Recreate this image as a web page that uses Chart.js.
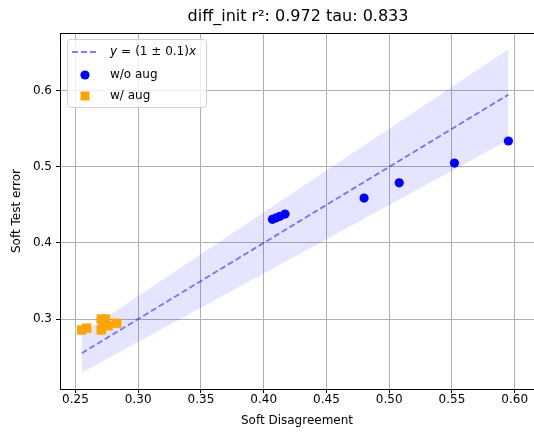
<!DOCTYPE html>
<html>
<head>
<meta charset="utf-8">
<script src="https://cdn.jsdelivr.net/npm/chart.js@4.4.1/dist/chart.umd.min.js"></script>
<style>
  html, body { margin: 0; padding: 0; overflow: hidden; background: #fff; }
  canvas { display: block; }
</style>
</head>
<body>
<canvas id="canvas" width="534" height="434"></canvas>
<script>
'use strict';

const titleText = 'diff_init r\u00b2: 0.972 tau: 0.833';
const xTitle = 'Soft Disagreement';
const yTitle = 'Soft Test error';

const xTicks = [0.25, 0.30, 0.35, 0.40, 0.45, 0.50, 0.55, 0.60];
const yTicks = [0.3, 0.4, 0.5, 0.6];

// without augmentation
const noAugX = [0.407, 0.410, 0.413, 0.417, 0.480, 0.508, 0.552, 0.595];
const noAugY = [0.431, 0.433, 0.435, 0.438, 0.459, 0.479, 0.505, 0.534];

// with augmentation
const augX = [0.255, 0.259, 0.2705, 0.274, 0.272, 0.2705, 0.276, 0.283];
const augY = [0.2855, 0.288, 0.300, 0.300, 0.2935, 0.2855, 0.291, 0.2945];

// reference line y = (1 +- 0.1) x
const slope = 1;
const tol = 0.1;

// the plot box runs a little past the right edge of the figure
const xMin = 0.2377, xMax = 0.6154;
const yMin = 0.208, yMax = 0.676;

const allX = noAugX.concat(augX);
const xLo = Math.min(...allX);
const xHi = Math.max(...allX);

const pts = (xs, ys) => xs.map((x, i) => ({ x: x, y: ys[i] }));
const lineAt = k => [{ x: xLo, y: k * xLo }, { x: xHi, y: k * xHi }];

const FONT = "'DejaVu Sans', sans-serif";

// title, top edge of the frame and the boxed legend
const decorations = {
    id: 'decorations',
    afterDraw(chart) {
        const ctx = chart.ctx;
        const area = chart.chartArea;
        ctx.save();

        ctx.strokeStyle = '#000';
        ctx.lineWidth = 1;
        ctx.beginPath();
        ctx.moveTo(area.left, area.top + 0.5);
        ctx.lineTo(area.right, area.top + 0.5);
        ctx.stroke();

        ctx.fillStyle = '#000';
        ctx.font = '16px ' + FONT;
        ctx.textAlign = 'center';
        ctx.textBaseline = 'middle';
        ctx.fillText(titleText, 298, 17);

        // legend
        const bx = 67, by = 39, bw = 139, bh = 68;
        ctx.fillStyle = 'rgba(255,255,255,0.8)';
        ctx.strokeStyle = '#d0d0d0';
        ctx.beginPath();
        ctx.roundRect(bx + 0.5, by + 0.5, bw, bh, 3);
        ctx.fill();
        ctx.stroke();

        const ds = chart.data.datasets;
        const textX = 110;
        const rows = [52, 75, 96];

        ctx.strokeStyle = ds[2].borderColor;
        ctx.lineWidth = ds[2].borderWidth;
        ctx.setLineDash(ds[2].borderDash);
        ctx.beginPath();
        ctx.moveTo(72, rows[0]);
        ctx.lineTo(98, rows[0]);
        ctx.stroke();
        ctx.setLineDash([]);

        ctx.fillStyle = ds[0].backgroundColor;
        ctx.beginPath();
        ctx.arc(85, rows[1], ds[0].pointRadius, 0, Math.PI * 2);
        ctx.fill();

        ctx.fillStyle = ds[1].backgroundColor;
        ctx.fillRect(80.5, rows[2] - 4.5, 9, 9);

        ctx.fillStyle = '#000';
        ctx.textAlign = 'left';
        ctx.textBaseline = 'middle';
        let x = textX;
        ctx.font = 'italic 12px ' + FONT;
        ctx.fillText('y', x, rows[0]);
        x += ctx.measureText('y').width + 4;
        ctx.font = '12px ' + FONT;
        ctx.fillText('=', x, rows[0]);
        x += ctx.measureText('=').width + 4;
        const mid = '(1 \u00b1 0.1)';
        ctx.fillText(mid, x, rows[0]);
        x += ctx.measureText(mid).width;
        ctx.font = 'italic 12px ' + FONT;
        ctx.fillText('x', x, rows[0]);

        ctx.font = '12px ' + FONT;
        ctx.fillText(ds[0].label, textX, rows[1]);
        ctx.fillText(ds[1].label, textX, rows[2]);
        ctx.restore();
    }
};

const ctx = document.getElementById('canvas').getContext('2d');

new Chart(ctx, {
    type: 'scatter',
    data: {
        datasets: [
            {
                label: 'w/o aug',
                data: pts(noAugX, noAugY),
                backgroundColor: '#0000ff',
                borderWidth: 0,
                pointRadius: 4.6,
                order: 1
            },
            {
                label: 'w/ aug',
                data: pts(augX, augY),
                backgroundColor: '#ffa500',
                borderWidth: 0,
                pointStyle: 'rect',
                pointRadius: 6.6,
                order: 0
            },
            {
                type: 'line',
                label: 'y = (1 \u00b1 0.1)x',
                data: lineAt(slope),
                borderColor: 'rgba(0,0,255,0.5)',
                borderWidth: 1.8,
                borderDash: [6, 3],
                pointRadius: 0,
                fill: false,
                order: 2
            },
            {
                type: 'line',
                data: lineAt(slope - tol),
                borderColor: 'transparent',
                borderWidth: 0,
                pointRadius: 0,
                fill: false,
                order: 4
            },
            {
                type: 'line',
                data: lineAt(slope + tol),
                borderColor: 'transparent',
                backgroundColor: 'rgba(0,0,255,0.1)',
                borderWidth: 0,
                pointRadius: 0,
                fill: '-1',
                order: 3
            }
        ]
    },
    options: {
        responsive: false,
        animation: false,
        layout: {
            autoPadding: false,
            padding: { top: 33, right: -6, left: 0, bottom: 0 }
        },
        plugins: {
            legend: { display: false },
            tooltip: { enabled: false },
            title: { display: false }
        },
        scales: {
            x: {
                type: 'linear',
                min: xMin,
                max: xMax,
                afterBuildTicks: s => { s.ticks = xTicks.map(v => ({ value: v })); },
                afterFit: s => { s.height = 45; s.paddingLeft = 0; s.paddingRight = 0; },
                ticks: {
                    color: '#000',
                    font: { family: FONT, size: 12 },
                    padding: 0,
                    maxRotation: 0,
                    callback: v => Number(v).toFixed(2)
                },
                grid: { color: '#b0b0b0', tickColor: '#000', tickLength: 4, lineWidth: 1 },
                border: { display: true, color: '#000', width: 1 },
                title: {
                    display: true,
                    text: xTitle,
                    color: '#000',
                    font: { family: FONT, size: 12 },
                    padding: { top: 0, bottom: 6 }
                }
            },
            y: {
                type: 'linear',
                min: yMin,
                max: yMax,
                afterBuildTicks: s => { s.ticks = yTicks.map(v => ({ value: v })); },
                afterFit: s => { s.width = 60; s.paddingTop = 0; s.paddingBottom = 0; },
                ticks: {
                    color: '#000',
                    font: { family: FONT, size: 12 },
                    padding: 4,
                    callback: v => Number(v).toFixed(1)
                },
                grid: { color: '#b0b0b0', tickColor: '#000', tickLength: 4, lineWidth: 1 },
                border: { display: true, color: '#000', width: 1 },
                title: {
                    display: true,
                    text: yTitle,
                    color: '#000',
                    font: { family: FONT, size: 12 },
                    padding: { top: 10, bottom: 0 }
                }
            }
        }
    },
    plugins: [decorations]
});
</script>
</body>
</html>
